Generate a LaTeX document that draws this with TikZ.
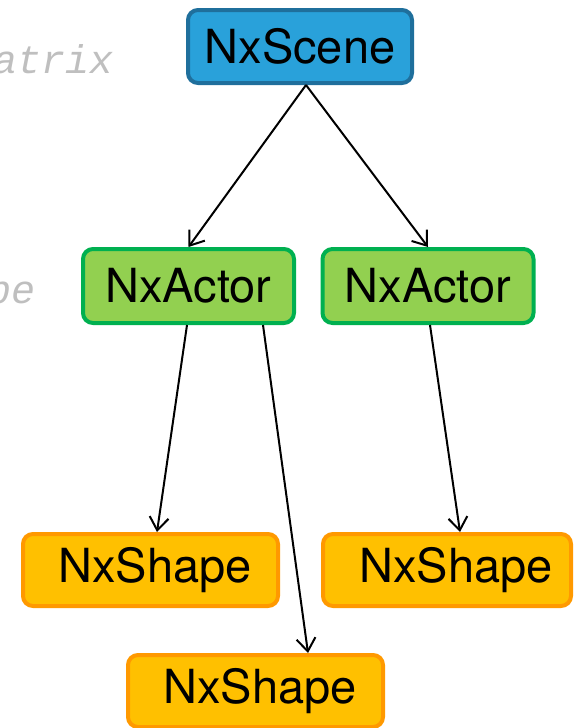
\documentclass[tikz,border=0pt]{standalone}
\usepackage{fontspec}
\setmainfont{TeX Gyre Heros}
\newfontfamily\codefont{Liberation Mono}
\usetikzlibrary{arrows.meta}
\definecolor{sceneFill}{HTML}{29A1DA}
\definecolor{sceneLine}{HTML}{1F6F9C}
\definecolor{actorFill}{HTML}{92D050}
\definecolor{actorLine}{HTML}{00B050}
\definecolor{shapeFill}{HTML}{FFC000}
\definecolor{shapeLine}{HTML}{FF9900}
\definecolor{codeGray}{HTML}{BFBFBF}
\tikzset{
  box/.style={rectangle, rounded corners=10pt, line width=4pt, inner sep=0pt,
    font=\fontsize{47}{51}\selectfont, text=black},
  scenebox/.style={box, draw=sceneLine, fill=sceneFill, minimum width=224pt, minimum height=73pt},
  actorbox/.style={box, draw=actorLine, fill=actorFill, minimum width=211pt, minimum height=74pt},
  shapebox/.style={box, draw=shapeLine, fill=shapeFill, minimum height=72pt},
  link/.style={line width=2pt, -{Straight Barb[length=13pt, width=19pt, line width=2pt]}},
  code/.style={inner sep=0pt, text=codeGray, font=\codefont\itshape\fontsize{40}{44}\selectfont}
}
\begin{document}
\begin{tikzpicture}[x=1pt, y=-1pt]
  \useasboundingbox (0,0) rectangle (574,728);
  \clip (0,0) rectangle (574,728);

  % fragments of code text at the left margin
  \node[code, anchor=base east] (codeA) at (114,73) {atrix};
  \node[code, anchor=base east] (codeB) at (36,303) {pe};

  % scene graph
  \node[scenebox] (scene) at (300,46.5) {NxScene};
  \node[actorbox] (actorL) at (188.5,286) {NxActor};
  \node[actorbox] (actorR) at (428,286) {NxActor};
  \node[shapebox, minimum width=255pt] (shapeL) at (150.5,570) {\kern9pt NxShape};
  \node[shapebox, minimum width=248pt] (shapeR) at (447,570) {\kern18pt NxShape};
  \node[shapebox, minimum width=255pt] (shapeB) at (255.5,691) {\kern9pt NxShape};

  % connectors
  \draw[link] ([xshift=6pt]scene.south) -- (actorL.north);
  \draw[link] ([xshift=6pt]scene.south) -- (actorR.north);
  \draw[link] ([xshift=-1.5pt]actorL.south) -- ([xshift=6.5pt]shapeL.north);
  \draw[link] ([xshift=74.5pt]actorL.south) -- ([xshift=52.5pt]shapeB.north);
  \draw[link] ([xshift=2pt]actorR.south) -- ([xshift=13pt]shapeR.north);
\end{tikzpicture}
\end{document}
